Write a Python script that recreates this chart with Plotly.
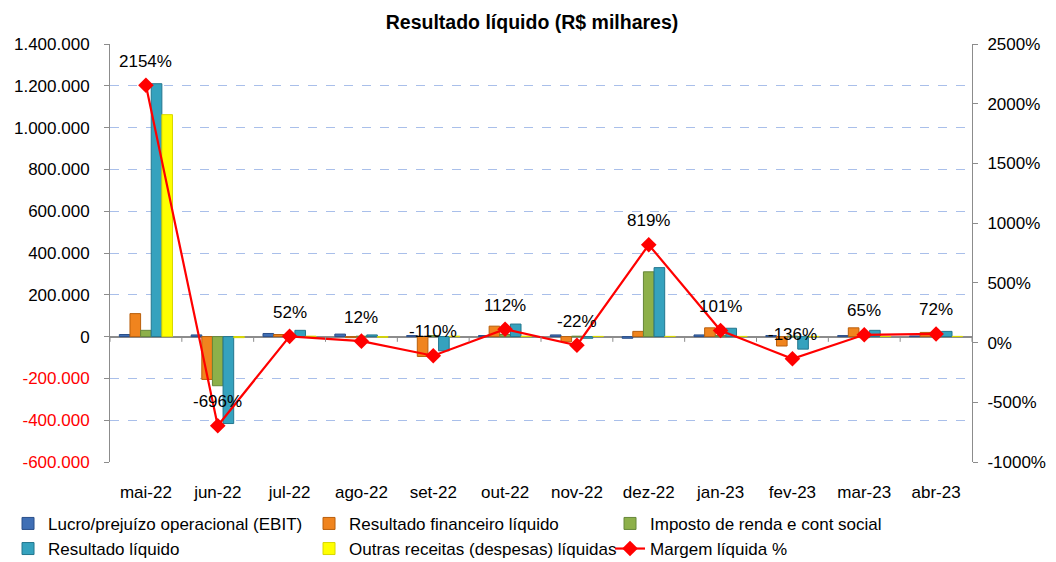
import plotly.graph_objects as go

months = ["mai-22", "jun-22", "jul-22", "ago-22", "set-22", "out-22",
          "nov-22", "dez-22", "jan-23", "fev-23", "mar-23", "abr-23"]

ebit = [10000, 8000, 15000, 12000, 5000, 5000, 8000, -8000, 8000, 5000, 5000, 3000]
resultado_fin = [110000, -205000, 10000, -5000, -95000, 50000, -25000, 25000, 42000, -45000, 42000, 20000]
imposto = [30000, -235000, 3000, 2000, 5000, 10000, 2000, 310000, 5000, 2000, -5000, 2000]
resultado_liq = [1210000, -416000, 30000, 8000, -68000, 60000, -8000, 330000, 40000, -60000, 30000, 25000]
outras = [1062000, -5000, 2000, -3000, 2000, 2000, 1000, 1000, 1000, 1000, 1000, 1000]
margem = [2154, -696, 52, 12, -110, 112, -22, 819, 101, -136, 65, 72]

left_ticks = list(range(-600000, 1400001, 200000))
right_ticks = list(range(-1000, 2501, 500))


def fmt_thousands(v):
    s = f"{abs(v):,d}".replace(",", ".")
    if v < 0:
        return f"<span style='color:#FF0000'>-{s}</span>"
    return s


left_labels = [fmt_thousands(v) for v in left_ticks]
right_labels = [f"{v}%" for v in right_ticks]

FONT = "Liberation Sans, Arial, sans-serif"

fig = go.Figure()

bar_specs = [
    ("Lucro/prejuízo operacional (EBIT)", ebit, "#3F6FB5", "#2A4F8A"),
    ("Resultado financeiro líquido", resultado_fin, "#F0841E", "#B95F0C"),
    ("Imposto de renda e cont social", imposto, "#8DB04A", "#66873A"),
    ("Resultado líquido", resultado_liq, "#35A2BE", "#23768E"),
    ("Outras receitas (despesas) líquidas", outras, "#FFFF00", "#D8D800"),
]
for name, vals, col, lc in bar_specs:
    fig.add_trace(go.Bar(
        x=months, y=vals, name=name,
        marker=dict(color=col, line=dict(color=lc, width=1)),
        yaxis="y",
    ))

fig.add_trace(go.Scatter(
    x=months, y=margem, name="Margem líquida %", yaxis="y2",
    mode="lines+markers",
    line=dict(color="#FF0000", width=2.2),
    marker=dict(symbol="diamond", size=12, color="#FF0000"),
))

for m, v in zip(months, margem):
    fig.add_annotation(x=m, y=v, xref="x", yref="y2", text=f"{v}%",
                       showarrow=False, yshift=24,
                       font=dict(size=17, color="#000000", family=FONT))

fig.update_layout(
    width=1048, height=554,
    margin=dict(l=102, r=84, t=36, b=100, autoexpand=False),
    paper_bgcolor="white", plot_bgcolor="white",
    font=dict(family=FONT, size=16, color="#000000"),
    title=dict(text="<b>Resultado líquido (R$ milhares)</b>", x=0.5, xanchor="center",
               y=0.975, yanchor="middle", font=dict(size=19.5, family=FONT)),
    barmode="group", bargap=0.26, bargroupgap=0,
    showlegend=True,
    legend=dict(orientation="h", x=-0.1183, xanchor="left", y=-0.105, yanchor="top",
                entrywidth=256, entrywidthmode="pixels",
                font=dict(size=17, family=FONT), itemwidth=30,
                tracegroupgap=0),
    xaxis=dict(range=[-0.5, len(months) - 0.5], autorange=False,
               showgrid=False, showline=False, ticks="", tickfont=dict(size=17),
               ticklabelstandoff=18),
    yaxis=dict(range=[-600000, 1400000], tickvals=left_ticks, ticktext=left_labels,
               showgrid=True, gridcolor="#A9BFEA", griddash="dash",
               gridwidth=1, showline=True, linecolor="#8C8C8C", ticks="outside",
               ticklen=5, tickcolor="#8C8C8C", zeroline=True, zerolinecolor="#8C8C8C",
               zerolinewidth=1.5, tickfont=dict(size=17), ticklabelstandoff=11),
    yaxis2=dict(range=[-1000, 2500], tickvals=right_ticks, ticktext=right_labels,
                overlaying="y", side="right", showgrid=False, showline=True,
                linecolor="#8C8C8C", ticks="outside", ticklen=5, tickcolor="#8C8C8C",
                zeroline=False, tickfont=dict(size=17), ticklabelstandoff=6),
)

# category separator ticks on the zero line
for i in range(len(months) + 1):
    fig.add_shape(type="line", xref="x", yref="y",
                  x0=i - 0.5, x1=i - 0.5, y0=0, y1=-25000,
                  line=dict(color="#8C8C8C", width=1))

fig.write_html("out.html")
